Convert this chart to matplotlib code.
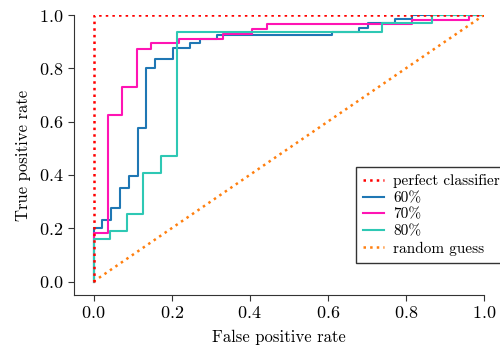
import matplotlib
matplotlib.use("Agg")
import matplotlib.pyplot as plt

plt.rcParams['font.family'] = 'serif'
plt.rcParams['font.serif'] = ['cmr10', 'DejaVu Serif']
plt.rcParams['mathtext.fontset'] = 'cm'
plt.rcParams['axes.formatter.use_mathtext'] = True

# ROC step corners (fpr, tpr) -- tpr is level after jump at fpr
fpr_60 = [0.0, 0.0, 0.021, 0.044, 0.067, 0.090, 0.113, 0.135, 0.158, 0.203, 0.248, 0.272, 0.317, 0.611, 0.679, 0.703, 0.771, 0.815, 1.0]
tpr_60 = [0.0, 0.200, 0.231, 0.275, 0.352, 0.397, 0.577, 0.802, 0.834, 0.877, 0.894, 0.910, 0.925, 0.9375, 0.952, 0.969, 0.985, 1.0, 1.0]

fpr_70 = [0.0, 0.0, 0.037, 0.073, 0.111, 0.147, 0.220, 0.332, 0.406, 0.443, 0.815, 0.962, 1.0]
tpr_70 = [0.0, 0.181, 0.625, 0.731, 0.872, 0.894, 0.910, 0.928, 0.946, 0.965, 0.980, 1.0, 1.0]

fpr_80 = [0.0, 0.0, 0.041, 0.086, 0.127, 0.172, 0.215, 0.738, 0.868, 1.0]
tpr_80 = [0.0, 0.159, 0.191, 0.253, 0.409, 0.471, 0.936, 0.969, 1.0, 1.0]

perfect_x = [0, 0, 1]
perfect_y = [0, 1, 1]
random_x = [0, 1]
random_y = [0, 1]

labels = ['perfect classifier', '60%', '70%', '80%', 'random guess']

fig = plt.figure(figsize=(5.0, 3.49), dpi=100)
ax = fig.add_axes([0.148, 0.155, 0.82, 0.802])

ax.plot(perfect_x, perfect_y, color='#ff0000', ls=':', lw=1.8, label=labels[0], zorder=3)
ax.plot(fpr_60, tpr_60, color='#1f77b4', lw=1.5, drawstyle='steps-post', label=labels[1])
ax.plot(fpr_70, tpr_70, color='#ff14b4', lw=1.5, drawstyle='steps-post', label=labels[2])
ax.plot(fpr_80, tpr_80, color='#2ec8b4', lw=1.5, drawstyle='steps-post', label=labels[3])
ax.plot(random_x, random_y, color='#ff7f0e', ls=':', lw=1.8, label=labels[4])

ax.set_xlim(-0.05, 1.0)
ax.set_ylim(-0.05, 1.0)
ax.set_xticks([0, 0.2, 0.4, 0.6, 0.8, 1.0])
ax.set_yticks([0, 0.2, 0.4, 0.6, 0.8, 1.0])
ax.tick_params(labelsize=13, length=4, color='#333333')
for s in ['top', 'right']:
    ax.spines[s].set_visible(False)
for s in ['left', 'bottom']:
    ax.spines[s].set_color('#333333')
ax.set_xlabel('False positive rate', fontsize=12, labelpad=6)
ax.set_ylabel('True positive rate', fontsize=12, labelpad=6)

leg = ax.legend(loc='lower left', bbox_to_anchor=(0.687, 0.115), fontsize=11,
                fancybox=False, edgecolor='#333333', framealpha=1,
                handlelength=1.4, handletextpad=0.6, labelspacing=0.2,
                borderpad=0.45, borderaxespad=0)
leg.get_frame().set_linewidth(1.0)

fig.savefig('out.png', dpi=100)
